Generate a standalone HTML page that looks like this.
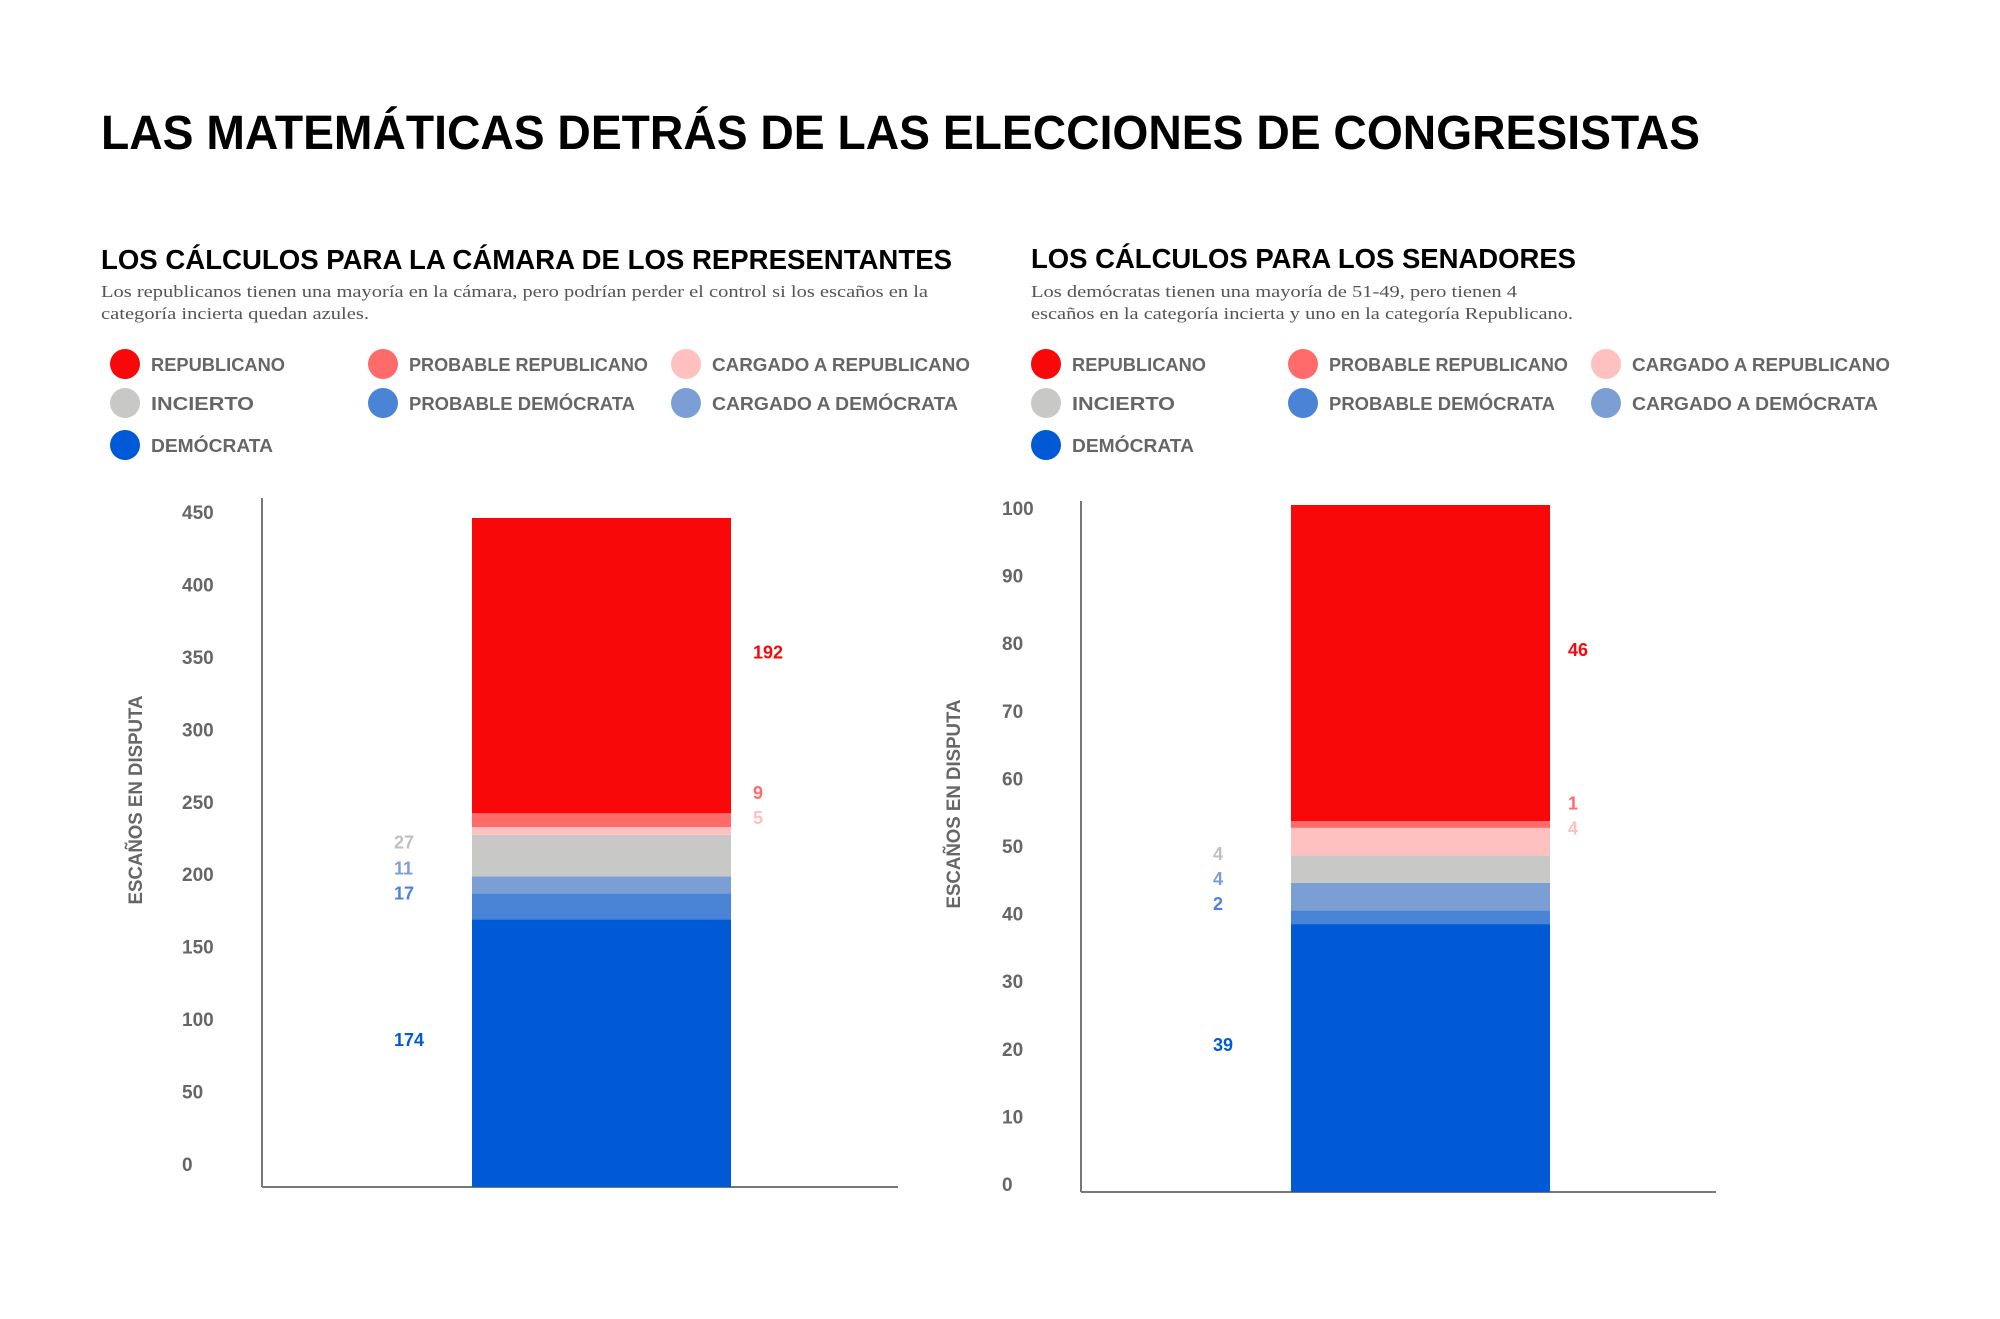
<!DOCTYPE html>
<html><head><meta charset="utf-8"><style>
html,body{margin:0;padding:0;background:#fff;}
svg{display:block;}
.h{font-family:"Liberation Sans",sans-serif;font-weight:bold;fill:#000;}
.d{font-family:"Liberation Serif",serif;fill:#555;font-size:17px;}
.lg{font-family:"Liberation Sans",sans-serif;font-weight:bold;fill:#666;font-size:18px;}
.tk{font-family:"Liberation Sans",sans-serif;font-weight:bold;fill:#666;font-size:19px;}
.vl{font-family:"Liberation Sans",sans-serif;font-weight:bold;font-size:18px;}
</style></head><body>
<svg id="s" width="2000" height="1319" viewBox="0 0 2000 1319" xmlns="http://www.w3.org/2000/svg">
<rect width="2000" height="1319" fill="#fff"/>
<text class="h" x="101" y="149" font-size="48" textLength="1599" lengthAdjust="spacingAndGlyphs">LAS MATEMÁTICAS DETRÁS DE LAS ELECCIONES DE CONGRESISTAS</text>
<text class="h" x="101" y="269" font-size="28" textLength="851" lengthAdjust="spacingAndGlyphs">LOS CÁLCULOS PARA LA CÁMARA DE LOS REPRESENTANTES</text>
<text class="h" x="1031" y="268" font-size="28" textLength="545" lengthAdjust="spacingAndGlyphs">LOS CÁLCULOS PARA LOS SENADORES</text>
<text class="d" x="101" y="297" textLength="827" lengthAdjust="spacingAndGlyphs">Los republicanos tienen una mayoría en la cámara, pero podrían perder el control si los escaños en la</text>
<text class="d" x="101" y="319" textLength="268" lengthAdjust="spacingAndGlyphs">categoría incierta quedan azules.</text>
<text class="d" x="1031" y="297" textLength="486" lengthAdjust="spacingAndGlyphs">Los demócratas tienen una mayoría de 51-49, pero tienen 4</text>
<text class="d" x="1031" y="319" textLength="542" lengthAdjust="spacingAndGlyphs">escaños en la categoría incierta y uno en la categoría Republicano.</text>
<g id="legends"></g>
<g id="charts"></g>
</svg>
<script>
const NS="http://www.w3.org/2000/svg";
const svg=document.getElementById('s');
const categories=["Demócrata","Probable Demócrata","Cargado a Demócrata","Incierto","Cargado a Republicano","Probable Republicano","Republicano"];
const colors=["#005AD6","#4A84D6","#7B9FD4","#C8C8C6","#FFC0C0","#FF6B6B","#F80808"];
const labelColors=["#005AD6","#4A84D6","#7B9FD4","#C0C0C0","#FFC0C0","#FF6B6B","#F80808"];
const labelSide=["left","left","left","left","right","right","right"];
const houseValues=[174,17,11,27,5,9,192];
const senateValues=[39,2,4,4,4,1,46];
const houseTicks=[0,50,100,150,200,250,300,350,400,450];
const senateTicks=[0,10,20,30,40,50,60,70,80,90,100];

function mk(tag,attrs,parent){const e=document.createElementNS(NS,tag);for(const k in attrs)e.setAttribute(k,attrs[k]);(parent||svg).appendChild(e);return e;}

const legendItems=[
 {t:"REPUBLICANO",c:"#F80808",col:0,row:0,w:134},
 {t:"PROBABLE REPUBLICANO",c:"#FF6B6B",col:1,row:0,w:239},
 {t:"CARGADO A REPUBLICANO",c:"#FFC0C0",col:2,row:0,w:258},
 {t:"INCIERTO",c:"#C8C8C6",col:0,row:1,w:103},
 {t:"PROBABLE DEMÓCRATA",c:"#4A84D6",col:1,row:1,w:226},
 {t:"CARGADO A DEMÓCRATA",c:"#7B9FD4",col:2,row:1,w:246},
 {t:"DEMÓCRATA",c:"#005AD6",col:0,row:2,w:122}];
const lg=document.getElementById('legends');
[[125,383,686],[1046,1303,1606]].forEach((cx,pi)=>{
 const rows=[364,403,445];
 legendItems.forEach(it=>{
  const g=mk('g',{},lg);
  
  
  mk('circle',{cx:cx[it.col],cy:rows[it.row],r:15,fill:it.c},g);
  const t=mk('text',{x:cx[it.col]+26,y:rows[it.row]+7,class:'lg',textLength:it.w,lengthAdjust:'spacingAndGlyphs'},g);
  t.textContent=it.t;
 });
});

function chart(cfg){
 const g=mk('g',{});
 
 
 const y=v=>cfg.base-v*cfg.k;
 const ty=v=>cfg.t0-v*cfg.tk;
 const ya=mk('line',{x1:cfg.ax,y1:cfg.atop,x2:cfg.ax,y2:cfg.base,stroke:'#777','stroke-width':2},g);
 
 
 const xa=mk('line',{x1:cfg.ax,y1:cfg.base,x2:cfg.aend,y2:cfg.base,stroke:'#777','stroke-width':2},g);
 
 
 cfg.ticks.forEach(v=>{
  const t=mk('text',{x:cfg.tx,y:ty(v)+7,class:'tk'},g);
  
  
  t.textContent=v;
 });
 const yt=mk('text',{x:0,y:0,class:'tk','font-size':17,'text-anchor':'middle',textLength:209,lengthAdjust:'spacingAndGlyphs',transform:`translate(${cfg.ytx},${cfg.yty}) rotate(-90)`},g);
 
 
 yt.textContent='ESCAÑOS EN DISPUTA';
 let cum=0;const mids=[];
 cfg.values.forEach((v,i)=>{
  const r=mk('rect',{x:cfg.bx,y:y(cum+v),width:cfg.bw,height:v*cfg.k,fill:colors[i]},g);
  
  
  mids.push(y(cum+v/2)-14);cum+=v;
 });
 ['left','right'].forEach(side=>{
  let last=Infinity;
  cfg.values.forEach((v,i)=>{
   if(labelSide[i]!==side)return;
   let yy=Math.min(mids[i],last-25);last=yy;
   const t=mk('text',{x:side==='left'?cfg.lx:cfg.rx,y:yy+7,class:'vl',fill:labelColors[i]},g);
   
   
   t.textContent=v;
  });
 });
}
chart({name:'house-chart',values:houseValues,ticks:houseTicks,base:1187,k:669/435,t0:1164,tk:1.449,ax:262,atop:498,aend:898,tx:182,bx:472,bw:259,lx:394,rx:753,ytx:142,yty:800});
chart({name:'senate-chart',values:senateValues,ticks:senateTicks,base:1192,k:6.87,t0:1184,tk:6.76,ax:1081,atop:501,aend:1716,tx:1002,bx:1291,bw:259,lx:1213,rx:1568,ytx:960,yty:804});
</script>
</body></html>
